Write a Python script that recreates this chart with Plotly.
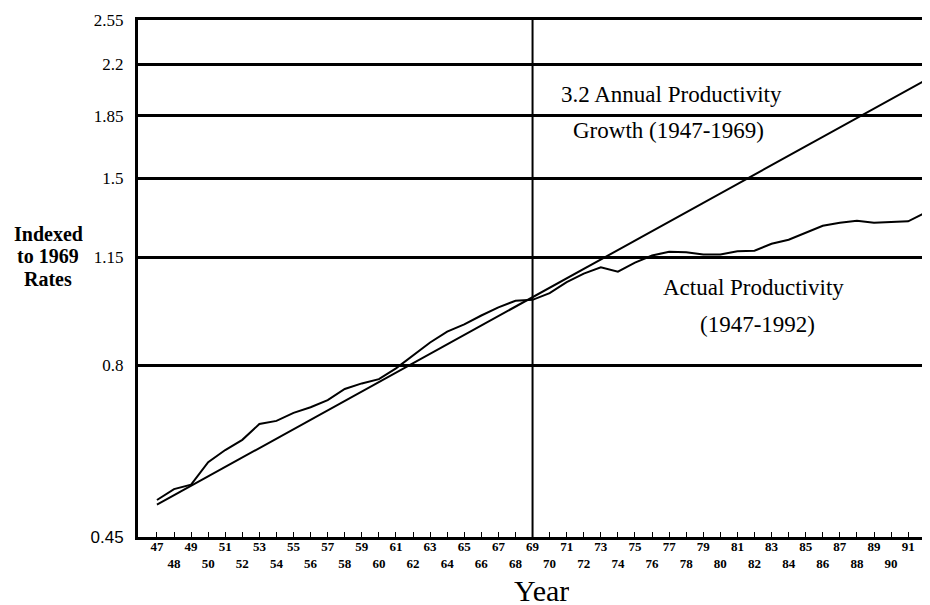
import plotly.graph_objects as go
import math

# ---- data ----
years = [47, 48, 49, 50, 51, 52, 53, 54, 55, 56, 57, 58, 59, 60, 61, 62, 63, 64, 65, 66, 67, 68, 69,
         70, 71, 72, 73, 74, 75, 76, 77, 78, 79, 80, 81, 82, 83, 84, 85, 86, 87, 88, 89, 90, 91, 92]
actual = [0.509, 0.528, 0.536, 0.578, 0.602, 0.623, 0.657, 0.664, 0.682, 0.695, 0.712, 0.739, 0.753,
          0.764, 0.792, 0.828, 0.864, 0.896, 0.918, 0.946, 0.972, 0.994, 0.997,
          1.02, 1.058, 1.089, 1.112, 1.096, 1.13, 1.157, 1.172, 1.17, 1.161, 1.161, 1.174, 1.176,
          1.204, 1.22, 1.249, 1.279, 1.292, 1.30, 1.292, 1.295, 1.298, 1.336]
trend_years = [47, 92]
trend_values = [0.501, 2.085]
y_ticks = [0.45, 0.8, 1.15, 1.5, 1.85, 2.2, 2.55]
y_tick_labels = ["<span style='font-family:Liberation Sans, Arial, sans-serif'>0.45</span>",
                 "0.8", "1.15", "1.5", "1.85", "2.2", "2.55"]
x_tick_labels = [str(y) if y % 2 == 1 else "<br>" + str(y) for y in years]
marker_year = 69

SERIF = "Liberation Serif, Times New Roman, serif"

fig = go.Figure()
fig.add_trace(go.Scatter(x=trend_years, y=trend_values, mode="lines",
                         line=dict(color="black", width=2), showlegend=False, hoverinfo="skip"))
fig.add_trace(go.Scatter(x=years, y=actual, mode="lines",
                         line=dict(color="black", width=2), showlegend=False, hoverinfo="skip"))

fig.add_shape(type="line", xref="x", yref="paper", x0=marker_year, x1=marker_year, y0=0, y1=1,
              line=dict(color="black", width=2))

def ann(text, x, y, size, bold=False, height=None):
    fig.add_annotation(text=("<b>%s</b>" % text) if bold else text, xref="paper", yref="paper",
                       x=x, y=y, xanchor="center", yanchor="middle", showarrow=False,
                       height=height,
                       font=dict(family=SERIF, size=size, color="black"))

ann("3.2 Annual Productivity", 0.673, 0.856, 23)
ann("Growth (1947-1969)", 0.670, 0.786, 23)
ann("Actual Productivity", 0.777, 0.482, 23)
ann("(1947-1992)", 0.782, 0.411, 23)
ann("Indexed", -0.1136, 0.586, 20, bold=True, height=22)
ann("to 1969", -0.1136, 0.543, 20, bold=True, height=22)
ann("Rates", -0.1136, 0.500, 20, bold=True, height=22)
ann("Year", 0.51, -0.1025, 30, height=32)

eps = 0.0005
fig.update_layout(
    width=922, height=597,
    margin=dict(l=130, r=0, t=12, b=68),
    paper_bgcolor="white", plot_bgcolor="white",
    font=dict(family=SERIF, color="black"),
    xaxis=dict(range=[45.89, 92.28], tickmode="array", tickvals=years, ticktext=x_tick_labels,
               ticks="inside", ticklen=5, tickwidth=1, tickcolor="black",
               showline=True, linewidth=3, linecolor="black", mirror=True,
               showgrid=False, zeroline=False, ticklabelstandoff=-5,
               tickfont=dict(family=SERIF, size=13, color="black", weight="bold"),
               tickangle=0),
    yaxis=dict(type="log", range=[math.log10(0.45) - eps, math.log10(2.55) + eps],
               tickmode="array", tickvals=y_ticks, ticktext=y_tick_labels,
               showline=True, linewidth=3, linecolor="black", mirror=False,
               showgrid=True, gridcolor="black", gridwidth=3, zeroline=False,
               ticks="", ticklabelstandoff=8,
               tickfont=dict(family=SERIF, size=17, color="black")),
)

fig.write_html("out.html", config={"displayModeBar": False})
